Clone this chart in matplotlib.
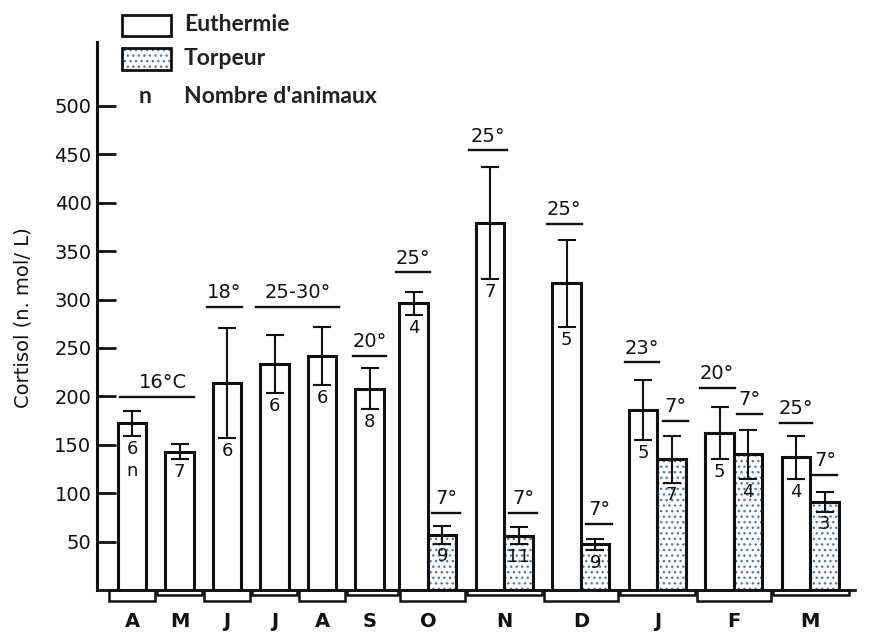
import numpy as np
import matplotlib.pyplot as plt
from matplotlib.patches import Rectangle

# donnees
months = ['A', 'M', 'J', 'J', 'A', 'S', 'O', 'N', 'D', 'J', 'F', 'M']
eu_mean = [172, 143, 214, 233, 242, 208, 296, 379, 317, 186, 162, 137]
eu_err = [13, 8, 57, 30, 30, 21, 12, 58, 45, 31, 27, 22]
eu_n = ['6', '7', '6', '6', '6', '8', '4', '7', '5', '5', '5', '4']
torp_months = [6, 7, 8, 9, 10, 11]
torp_mean = [57, 56, 47, 135, 140, 91]
torp_err = [9, 9, 6, 24, 25, 10]
torp_n = ['9', '11', '9', '7', '4', '3']
yticks = [50, 100, 150, 200, 250, 300, 350, 400, 450, 500]

# temperatures (texte, centre, demi-largeur du trait, hauteur du trait)
temp_txt = ['16°C', '18°', '25-30°', '20°', '25°', '7°', '25°', '7°', '25°', '7°',
            '23°', '7°', '20°', '7°', '25°', '7°']
temp_x = [0.53, 1.94, 3.48, 5.0, 5.92, 6.61, 7.5, 8.23, 9.1, 9.83,
          10.74, 11.44, 12.32, 13.0, 13.98, 14.59]
temp_hw = [0.78, 0.37, 0.87, 0.35, 0.36, 0.3, 0.4, 0.3, 0.37, 0.27,
           0.36, 0.27, 0.37, 0.27, 0.34, 0.25]
temp_y = [199, 292, 292, 242, 328, 80, 454, 80, 378, 68,
          235, 175, 209, 182, 173, 119]

# positions des mois (les 6 derniers sont plus larges: deux barres)
pos = np.array([0, 1, 2, 3, 4, 5, 6.23, 7.84, 9.45, 11.06, 12.67, 14.28])

fig = plt.figure(figsize=(8.71, 6.35), dpi=100)
ax = fig.add_axes([97 / 871, 45 / 635, (855 - 97) / 871, (593 - 45) / 635])
ax.set_xlim(-0.737, 15.22)
ax.set_ylim(0, 566)

k = '#111111'
dots = '#4f7fa6'
w = 0.6
eu_x = np.array([p if i < 6 else p - w / 2 for i, p in enumerate(pos)])
torp_x = pos[torp_months] + w / 2

ax.bar(eu_x, eu_mean, width=w, color='white', edgecolor=k, linewidth=2.2, zorder=2)
ax.bar(torp_x, torp_mean, width=w, color='white', edgecolor=dots, hatch='...',
       linewidth=0, zorder=2)
ax.bar(torp_x, torp_mean, width=w, color='none', edgecolor=k, linewidth=2.2, zorder=3)

ax.errorbar(eu_x, eu_mean, yerr=eu_err, fmt='none', ecolor=k, elinewidth=1.5,
            capsize=6.5, capthick=1.5, zorder=4)
ax.errorbar(torp_x, torp_mean, yerr=torp_err, fmt='none', ecolor=k, elinewidth=1.5,
            capsize=6.5, capthick=1.5, zorder=4)

for x, m, e, n in zip(eu_x, eu_mean, eu_err, eu_n):
    ax.text(x, m - e - 4, n, ha='center', va='top', fontsize=13, color=k, zorder=5)
for x, m, e, n in zip(torp_x, torp_mean, torp_err, torp_n):
    ax.text(x, m - e - 4, n, ha='center', va='top', fontsize=13, color=k, zorder=5)
ax.text(eu_x[0], eu_mean[0] - eu_err[0] - 27, 'n', ha='center', va='top',
        fontsize=13, color=k)

for t, x, hw, y in zip(temp_txt, temp_x, temp_hw, temp_y):
    ax.plot([x - hw, x + hw], [y, y], color=k, lw=1.7, clip_on=False)
    xt = x + 0.12 if t == '16°C' else x
    ax.text(xt, y + 5, t, ha='center', va='bottom', fontsize=14, color=k)

# bande des mois sous l'axe
mids = (pos[:-1] + pos[1:]) / 2
edges = np.concatenate([[pos[0] - 0.5], mids, [pos[-1] + 0.84]])
for i in range(len(months)):
    h = 11.5 if i % 2 == 0 else 5
    ax.add_patch(Rectangle((edges[i] + 0.02, -h), edges[i + 1] - edges[i] - 0.04, h,
                           facecolor='white', edgecolor=k, lw=1.8, clip_on=False))

ax.spines['top'].set_visible(False)
ax.spines['right'].set_visible(False)
ax.spines['left'].set_linewidth(2.2)
ax.spines['bottom'].set_linewidth(2.0)
ax.spines['left'].set_color(k)
ax.spines['bottom'].set_color(k)

ax.set_yticks(yticks)
ax.tick_params(axis='y', direction='in', length=14, width=2, labelsize=14, pad=4,
               color=k, labelcolor=k)
ax.set_xticks(pos)
ax.set_xticklabels(months, fontweight='bold')
ax.tick_params(axis='x', length=0, labelsize=14, pad=16, labelcolor=k)

ax.set_ylabel('Cortisol (n. mol/ L)', fontsize=14, color=k)
ax.yaxis.set_label_coords(-0.085, 0.497)

# legende
ax.add_patch(Rectangle((-0.21, 572), 1.03, 22, facecolor='white', edgecolor=k,
                       lw=2, clip_on=False))
ax.add_patch(Rectangle((-0.21, 537), 1.03, 23, facecolor='white', edgecolor=dots,
                       hatch='...', lw=0, clip_on=False))
ax.add_patch(Rectangle((-0.21, 537), 1.03, 23, facecolor='none', edgecolor=k,
                       lw=2, clip_on=False))
lf = dict(fontsize=16.5, fontweight='bold', family='Lato', va='center', ha='left',
          color='#222222')
ax.text(1.09, 584, 'Euthermie', **lf)
ax.text(1.09, 549, 'Torpeur', **lf)
ax.text(1.09, 510, "Nombre d'animaux", **lf)
ax.text(0.27, 510, 'n', fontsize=16.5, fontweight='bold', family='Lato',
        va='center', ha='center', color='#222222')

fig.savefig('out.png', dpi=100)
